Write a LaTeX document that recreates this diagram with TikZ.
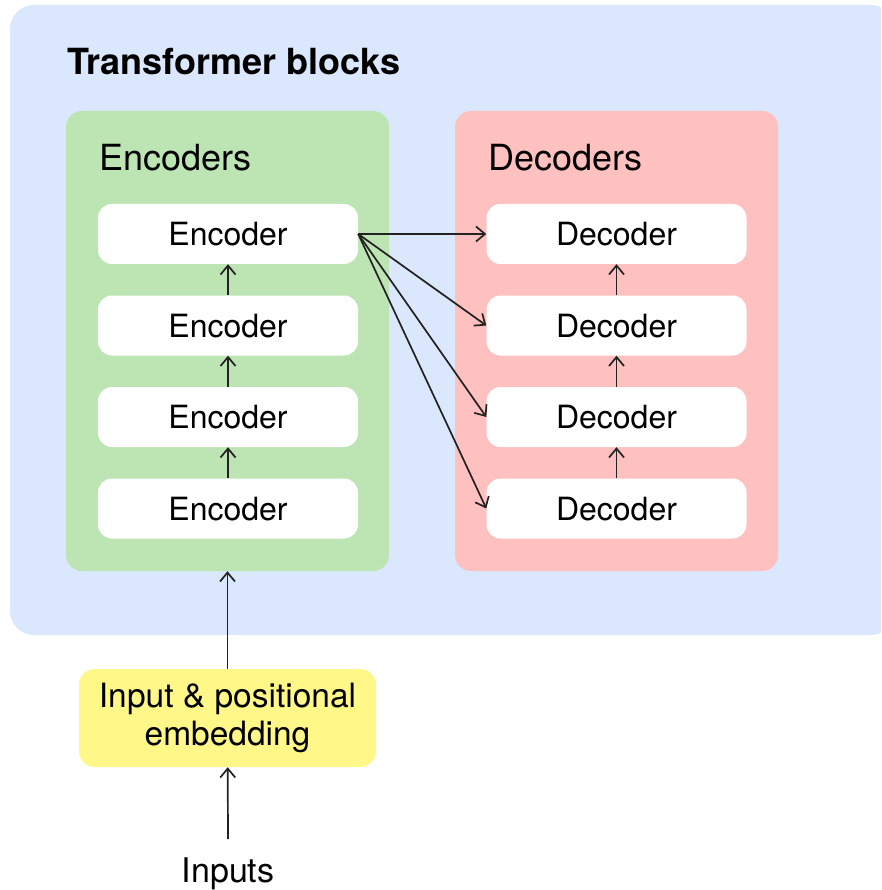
\documentclass[tikz,border=0pt]{standalone}
\usepackage{fontspec}
\setmainfont{TeX Gyre Heros}
\usetikzlibrary{arrows.meta}

\definecolor{blockblue}{RGB}{218,231,252}
\definecolor{encgreen}{RGB}{188,229,179}
\definecolor{decred}{RGB}{255,192,192}
\definecolor{embedyellow}{RGB}{255,248,137}
\definecolor{arrowgray}{RGB}{34,34,34}

\tikzset{
  panel/.style={rounded corners=16pt, inner sep=0pt, draw=none},
  layer/.style={fill=white, rounded corners=14pt, minimum width=260pt,
    minimum height=60pt, inner sep=0pt, font=\fontsize{32}{38}\selectfont,
    text height=23pt, text depth=0pt},
  heading/.style={anchor=base west, inner sep=0pt, font=\fontsize{36}{42}\selectfont},
  flow/.style={-{Straight Barb[length=9pt,width=15pt]}, line width=1.7pt, draw=arrowgray},
}

\begin{document}
\begin{tikzpicture}[x=1pt, y=-1pt]
\useasboundingbox (0,0) rectangle (881,890);

% outer container, running past the right edge
\begin{scope}
  \clip (0,0) rectangle (881,890);
  \node[panel, fill=blockblue, rounded corners=24pt, minimum width=885pt,
        minimum height=630pt] (blocks) at (452.5,320) {};
\end{scope}

\node[heading, font=\bfseries\fontsize{36}{42}\selectfont] (title) at (67,75) {Transformer blocks};

% encoder and decoder stacks
\node[panel, fill=encgreen, minimum width=323pt, minimum height=460pt] (encoders) at (227.5,341) {};
\node[panel, fill=decred,   minimum width=323pt, minimum height=460pt] (decoders) at (616.5,341) {};

\node[heading] (enclabel) at (99,171) {Encoders};
\node[heading] (declabel) at (488,171) {Decoders};

\foreach \i/\y in {1/234, 2/325.5, 3/417, 4/508.5} {
  \node[layer] (e\i) at (228,\y) {Encoder};
  \node[layer] (d\i) at (616.5,\y) {Decoder};
}

\foreach \a/\b in {2/1, 3/2, 4/3} {
  \draw[flow] (e\a) -- (e\b);
  \draw[flow] (d\a) -- (d\b);
}

\foreach \i in {1,...,4}
  \draw[flow] (e1.east) -- (d\i.west);

% embedding and inputs
\node[panel, fill=embedyellow, minimum width=297pt, minimum height=98pt,
      align=center, font=\fontsize{33.5}{38}\selectfont] (embed) at (227.5,718)
      {Input \& positional\\embedding};

\node[anchor=base, inner sep=0pt, font=\fontsize{34}{40}\selectfont] (inputs) at (228,882) {Inputs};

\draw[flow] (embed) -- (encoders);
\draw[flow] ([yshift=18pt]inputs.north) -- (embed);
\end{tikzpicture}
\end{document}
